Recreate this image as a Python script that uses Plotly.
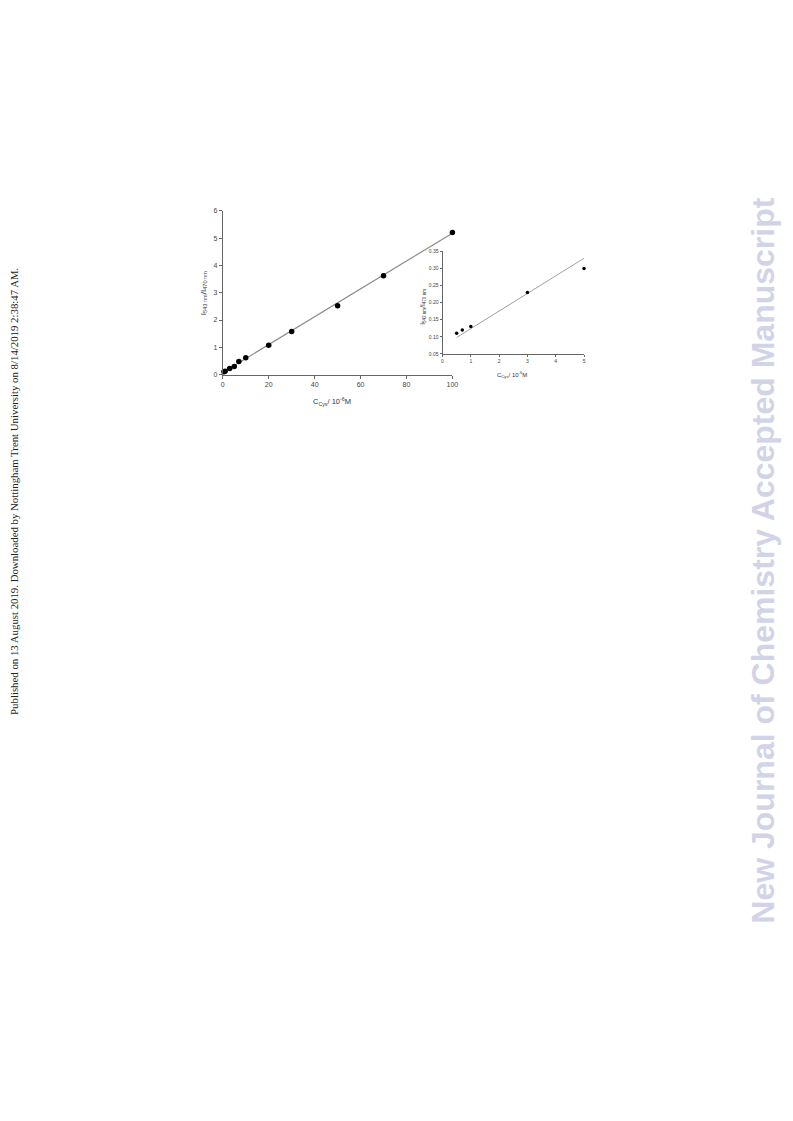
import plotly.graph_objects as go

# Main plot data
conc_main = [0.5, 1, 3, 5, 7, 10, 20, 30, 50, 70, 100]
ratio_main = [0.11, 0.13, 0.23, 0.30, 0.48, 0.62, 1.08, 1.58, 2.52, 3.62, 5.20]
fit_main_x = [0, 100]
fit_main_y = [0.08, 5.18]

# Inset data
conc_inset = [0.5, 0.7, 1, 3, 5]
ratio_inset = [0.11, 0.12, 0.13, 0.23, 0.30]
fit_inset_x = [0.5, 5]
fit_inset_y = [0.098, 0.330]

main_xticks = [0, 20, 40, 60, 80, 100]
main_yticks = [0, 1, 2, 3, 4, 5, 6]
inset_xticks = [0, 1, 2, 3, 4, 5]
inset_yticks = [0.05, 0.10, 0.15, 0.20, 0.25, 0.30, 0.35]

# page body has 8px default margin; figure sized to fit the 793x1121 window
OFF = 8
W, H = 793 - 2 * OFF, 1121 - 2 * OFF


def px(x):
    return (x - OFF) / W


def py(y):
    return (H - (y - OFF)) / H


fig = go.Figure()
fig.add_trace(go.Scatter(x=fit_main_x, y=fit_main_y, mode="lines",
                         line=dict(color="#8c8c8c", width=1.2),
                         xaxis="x", yaxis="y", showlegend=False, cliponaxis=False))
fig.add_trace(go.Scatter(x=conc_main, y=ratio_main, mode="markers",
                         marker=dict(color="black", size=5.5),
                         xaxis="x", yaxis="y", showlegend=False, cliponaxis=False))
fig.add_trace(go.Scatter(x=fit_inset_x, y=fit_inset_y, mode="lines",
                         line=dict(color="#a0a0a0", width=1),
                         xaxis="x2", yaxis="y2", showlegend=False, cliponaxis=False))
fig.add_trace(go.Scatter(x=conc_inset, y=ratio_inset, mode="markers",
                         marker=dict(color="black", size=3.5),
                         xaxis="x2", yaxis="y2", showlegend=False, cliponaxis=False))

FONT = "Liberation Sans, Arial"
axcommon = dict(showgrid=False, zeroline=False, showline=True,
                linecolor="#666", linewidth=1, ticks="outside",
                tickcolor="#666", ticklen=3, tickwidth=1)

fig.update_layout(
    width=W, height=H, margin=dict(l=0, r=0, t=0, b=0),
    paper_bgcolor="white", plot_bgcolor="rgba(0,0,0,0)",
    xaxis=dict(axcommon, domain=[px(223), px(455)], range=[0, 100],
               tickvals=main_xticks, anchor="y",
               tickfont=dict(size=7, family=FONT, color="#444")),
    yaxis=dict(axcommon, domain=[py(373), py(208)], range=[0, 6],
               tickvals=main_yticks, anchor="x",
               tickfont=dict(size=7, family=FONT, color="#444")),
    xaxis2=dict(axcommon, domain=[px(445), px(588)], range=[0, 5],
                tickvals=inset_xticks, anchor="y2", ticklen=2,
                tickfont=dict(size=5, family=FONT, color="#444")),
    yaxis2=dict(axcommon, domain=[py(352), py(249)], range=[0.05, 0.35],
                tickvals=inset_yticks, tickformat=".2f", anchor="x2", ticklen=2,
                tickfont=dict(size=5, family=FONT, color="#444")),
)

ann_font = dict(family=FONT, color="#333")


def note(x, y, text, size, angle=0, **font):
    fig.add_annotation(x=px(x), y=py(y), xref="paper", yref="paper",
                       xanchor="center", yanchor="middle",
                       text=text, textangle=angle, showarrow=False,
                       font=dict(size=size, **(font or ann_font)))


note(204, 291, "I<sub>543 nm</sub>/I<sub>470 nm</sub>", 8, -90)
note(333, 400, "C<sub>Cys</sub>/ 10<sup>-6</sup>M", 7.5)
note(425, 305, "I<sub>543 nm</sub>/I<sub>470 nm</sub>", 6.5, -90)
note(515, 373, "C<sub>Cys</sub>/ 10<sup>-6</sup>M", 6)

# Side texts
note(12, 490,
     "Published on 13 August 2019. Downloaded by Nottingham Trent University on 8/14/2019 2:38:47 AM.",
     10.8, -90, family="Liberation Serif, Times New Roman", color="#222")
note(768, 560, "<b>New Journal of Chemistry Accepted Manuscript</b>",
     32, -90, family=FONT, color="#d3d3e8")

fig.write_html("out.html")
